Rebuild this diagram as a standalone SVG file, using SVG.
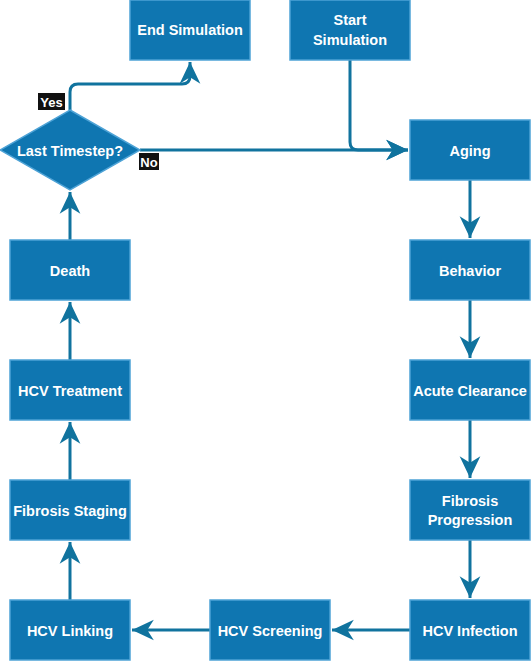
<svg xmlns="http://www.w3.org/2000/svg" width="531" height="661" viewBox="0 0 531 661">
<style>
.box{fill:#0f76b1;stroke:#4ea3d6;stroke-width:1.5}
.t{font-family:"Liberation Sans",Arial,sans-serif;font-weight:bold;font-size:14.5px;fill:#ffffff;text-anchor:middle;dominant-baseline:central}
.lbl{font-family:"Liberation Sans",Arial,sans-serif;font-weight:bold;font-size:13px;fill:#ffffff;text-anchor:middle;dominant-baseline:central}
.e{fill:none;stroke:#10739e;stroke-width:3}
</style>
<defs>
<marker id="ah" markerUnits="userSpaceOnUse" markerWidth="24" markerHeight="24" viewBox="-21 -11 22 22" refX="0" refY="0" orient="auto">
<path d="M0,0 L-20,-9.5 L-14,0 L-20,9.5 Z" fill="#10739e"/>
</marker>
</defs>
<rect width="531" height="661" fill="#ffffff"/>
<g id="connectors">
<path class="e" d="M350,60 V142 Q350,150 358,150 H408" marker-end="url(#ah)"/>
<path class="e" d="M140,150 H408" marker-end="url(#ah)"/>
<path class="e" d="M70,110 V92 Q70,84 78,84 H182 Q190,84 190,76 V62" marker-end="url(#ah)"/>
<path class="e" d="M470,180 V238" marker-end="url(#ah)"/>
<path class="e" d="M470,300 V358" marker-end="url(#ah)"/>
<path class="e" d="M470,420 V478" marker-end="url(#ah)"/>
<path class="e" d="M470,540 V598" marker-end="url(#ah)"/>
<path class="e" d="M410,630 H332" marker-end="url(#ah)"/>
<path class="e" d="M210,630 H132" marker-end="url(#ah)"/>
<path class="e" d="M70,600 V542" marker-end="url(#ah)"/>
<path class="e" d="M70,480 V422" marker-end="url(#ah)"/>
<path class="e" d="M70,360 V302" marker-end="url(#ah)"/>
<path class="e" d="M70,240 V192" marker-end="url(#ah)"/>
<rect x="38" y="93" width="27" height="17" fill="#111111"/>
<text class="lbl" x="51.5" y="102">Yes</text>
<rect x="139" y="153" width="20" height="17" fill="#111111"/>
<text class="lbl" x="149" y="162">No</text>
</g>
<g id="end"><rect class="box" x="130" y="0" width="120" height="60"/><text class="t" x="190" y="30">End Simulation</text></g>
<g id="start"><rect class="box" x="290" y="0" width="120" height="60"/><text class="t" x="350" y="20">Start</text><text class="t" x="350" y="40">Simulation</text></g>
<g id="decision"><polygon class="box" points="70,110 140,150 70,190 0,150"/><text class="t" x="70" y="151">Last Timestep?</text></g>
<g id="aging"><rect class="box" x="410" y="120" width="120" height="60"/><text class="t" x="470" y="151">Aging</text></g>
<g id="behavior"><rect class="box" x="410" y="240" width="120" height="60"/><text class="t" x="470" y="271">Behavior</text></g>
<g id="acute"><rect class="box" x="410" y="360" width="120" height="60"/><text class="t" x="470" y="391">Acute Clearance</text></g>
<g id="fibprog"><rect class="box" x="410" y="480" width="120" height="60"/><text class="t" x="470" y="501">Fibrosis</text><text class="t" x="470" y="520">Progression</text></g>
<g id="infection"><rect class="box" x="410" y="600" width="120" height="60"/><text class="t" x="470" y="631">HCV Infection</text></g>
<g id="screening"><rect class="box" x="210" y="600" width="120" height="60"/><text class="t" x="270" y="631">HCV Screening</text></g>
<g id="linking"><rect class="box" x="10" y="600" width="120" height="60"/><text class="t" x="70" y="631">HCV Linking</text></g>
<g id="staging"><rect class="box" x="10" y="480" width="120" height="60"/><text class="t" x="70" y="511">Fibrosis Staging</text></g>
<g id="treatment"><rect class="box" x="10" y="360" width="120" height="60"/><text class="t" x="70" y="391">HCV Treatment</text></g>
<g id="death"><rect class="box" x="10" y="240" width="120" height="60"/><text class="t" x="70" y="271">Death</text></g>
</svg>
